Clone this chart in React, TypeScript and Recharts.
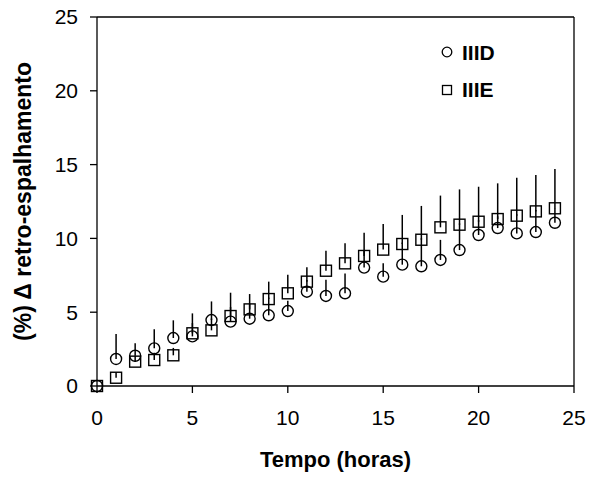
import React from 'react'
import {
  ScatterChart,
  Scatter,
  XAxis,
  YAxis,
  ErrorBar,
  ReferenceLine,
  Legend,
} from 'recharts'

const hours = [0, 1, 2, 3, 4, 5, 6, 7, 8, 9, 10, 11, 12, 13, 14, 15, 16, 17, 18, 19, 20, 21, 22, 23, 24]

const iiid = [0, 1.83, 2.05, 2.55, 3.25, 3.36, 4.47, 4.36, 4.56, 4.79, 5.08, 6.39, 6.1, 6.28, 8.02, 7.41, 8.22, 8.11, 8.54, 9.21, 10.23, 10.7, 10.34, 10.43, 11.06]
const iiidErr = [0, 1.69, 0.84, 1.29, 1.2, 0.9, 1.26, 1.0, 1.0, 1.2, 0.7, 0.8, 1.1, 1.35, 1.2, 0.9, 1.5, 1.9, 1.36, 1.8, 1.0, 0.8, 1.3, 1.5, 1.0]

const iiie = [0, 0.56, 1.65, 1.76, 2.08, 3.57, 3.77, 4.74, 5.19, 5.89, 6.28, 7.07, 7.81, 8.31, 8.81, 9.24, 9.62, 9.91, 10.75, 10.93, 11.13, 11.31, 11.54, 11.83, 12.04]
const iiieErr = [0, 0.37, 0.4, 0.5, 0.5, 1.35, 0.8, 1.58, 1.04, 1.18, 1.26, 0.97, 1.36, 1.36, 1.58, 1.74, 1.97, 2.29, 2.15, 2.39, 2.37, 2.42, 2.57, 2.46, 2.66]

const xTicks = [0, 5, 10, 15, 20, 25]
const yTicks = [0, 5, 10, 15, 20, 25]

const FONT = '"Liberation Sans", Arial, Helvetica, sans-serif'

const dataD = hours.map((h, i) => ({ h, v: iiid[i], err: [0, iiidErr[i]] }))
const dataE = hours.map((h, i) => ({ h, v: iiie[i], err: [0, iiieErr[i]] }))

const CircleMark = (p: any) => (
  <circle cx={p.cx} cy={p.cy} r={5.5} fill="none" stroke="#000" strokeWidth={1.4} />
)
const SquareMark = (p: any) => (
  <rect x={p.cx - 5.5} y={p.cy - 5.5} width={11} height={11} fill="none" stroke="#000" strokeWidth={1.4} />
)

// legend sits inside the plot, top right
const LegendBox = () => (
  <svg width={120} height={70} style={{ display: 'block' }}>
    <circle cx={9} cy={14} r={4.8} fill="none" stroke="#000" strokeWidth={1.3} />
    <text x={24} y={22} fontFamily={FONT} fontSize={21} fontWeight="bold" fill="#000">IIID</text>
    <rect x={4.5} y={47.5} width={9} height={9} fill="none" stroke="#000" strokeWidth={1.3} />
    <text x={24} y={59} fontFamily={FONT} fontSize={21} fontWeight="bold" fill="#000">IIIE</text>
  </svg>
)

const YTitle = () => {
  const cy = 17 + 369 / 2
  return (
    <text
      x={31}
      y={cy}
      transform={`rotate(-90, 31, ${cy})`}
      textAnchor="middle"
      fontFamily={FONT}
      fontSize={23}
      fontWeight="bold"
      fill="#000"
    >
      (%) Δ retro-espalhamento
    </text>
  )
}

export default function App() {
  return (
    <div style={{ position: 'absolute', left: 0, top: 0, background: '#fff' }}>
      <ScatterChart width={592} height={479} margin={{ top: 17, right: 18, bottom: 0, left: 0 }}>
        <XAxis
          type="number"
          dataKey="h"
          domain={[0, 25]}
          ticks={xTicks}
          height={93}
          tickSize={7}
          tickMargin={17}
          stroke="#000"
          strokeWidth={1.3}
          tick={{ fill: '#000', fontSize: 21, fontFamily: FONT }}
          label={{
            value: 'Tempo (horas)',
            position: 'insideBottom',
            offset: 12,
            fill: '#000',
            fontSize: 22,
            fontWeight: 'bold',
            fontFamily: FONT,
          }}
        />
        <YAxis
          type="number"
          dataKey="v"
          domain={[0, 25]}
          ticks={yTicks}
          width={97}
          tickSize={7}
          tickMargin={12}
          stroke="#000"
          strokeWidth={1.3}
          tick={{ fill: '#000', fontSize: 21, fontFamily: FONT }}
          label={<YTitle />}
        />
        <ReferenceLine y={25} stroke="#000" strokeWidth={1.3} />
        <ReferenceLine x={25} stroke="#000" strokeWidth={1.3} />
        <Legend
          layout="vertical"
          align="center"
          verticalAlign="middle"
          wrapperStyle={{ top: 38, left: 438, width: 120, height: 70 }}
          content={() => <LegendBox />}
        />
        <Scatter name="IIID" data={dataD} shape={CircleMark} isAnimationActive={false}>
          <ErrorBar dataKey="err" direction="y" width={0} stroke="#000" strokeWidth={1.5} />
        </Scatter>
        <Scatter name="IIIE" data={dataE} shape={SquareMark} isAnimationActive={false}>
          <ErrorBar dataKey="err" direction="y" width={0} stroke="#000" strokeWidth={1.5} />
        </Scatter>
      </ScatterChart>
    </div>
  )
}
